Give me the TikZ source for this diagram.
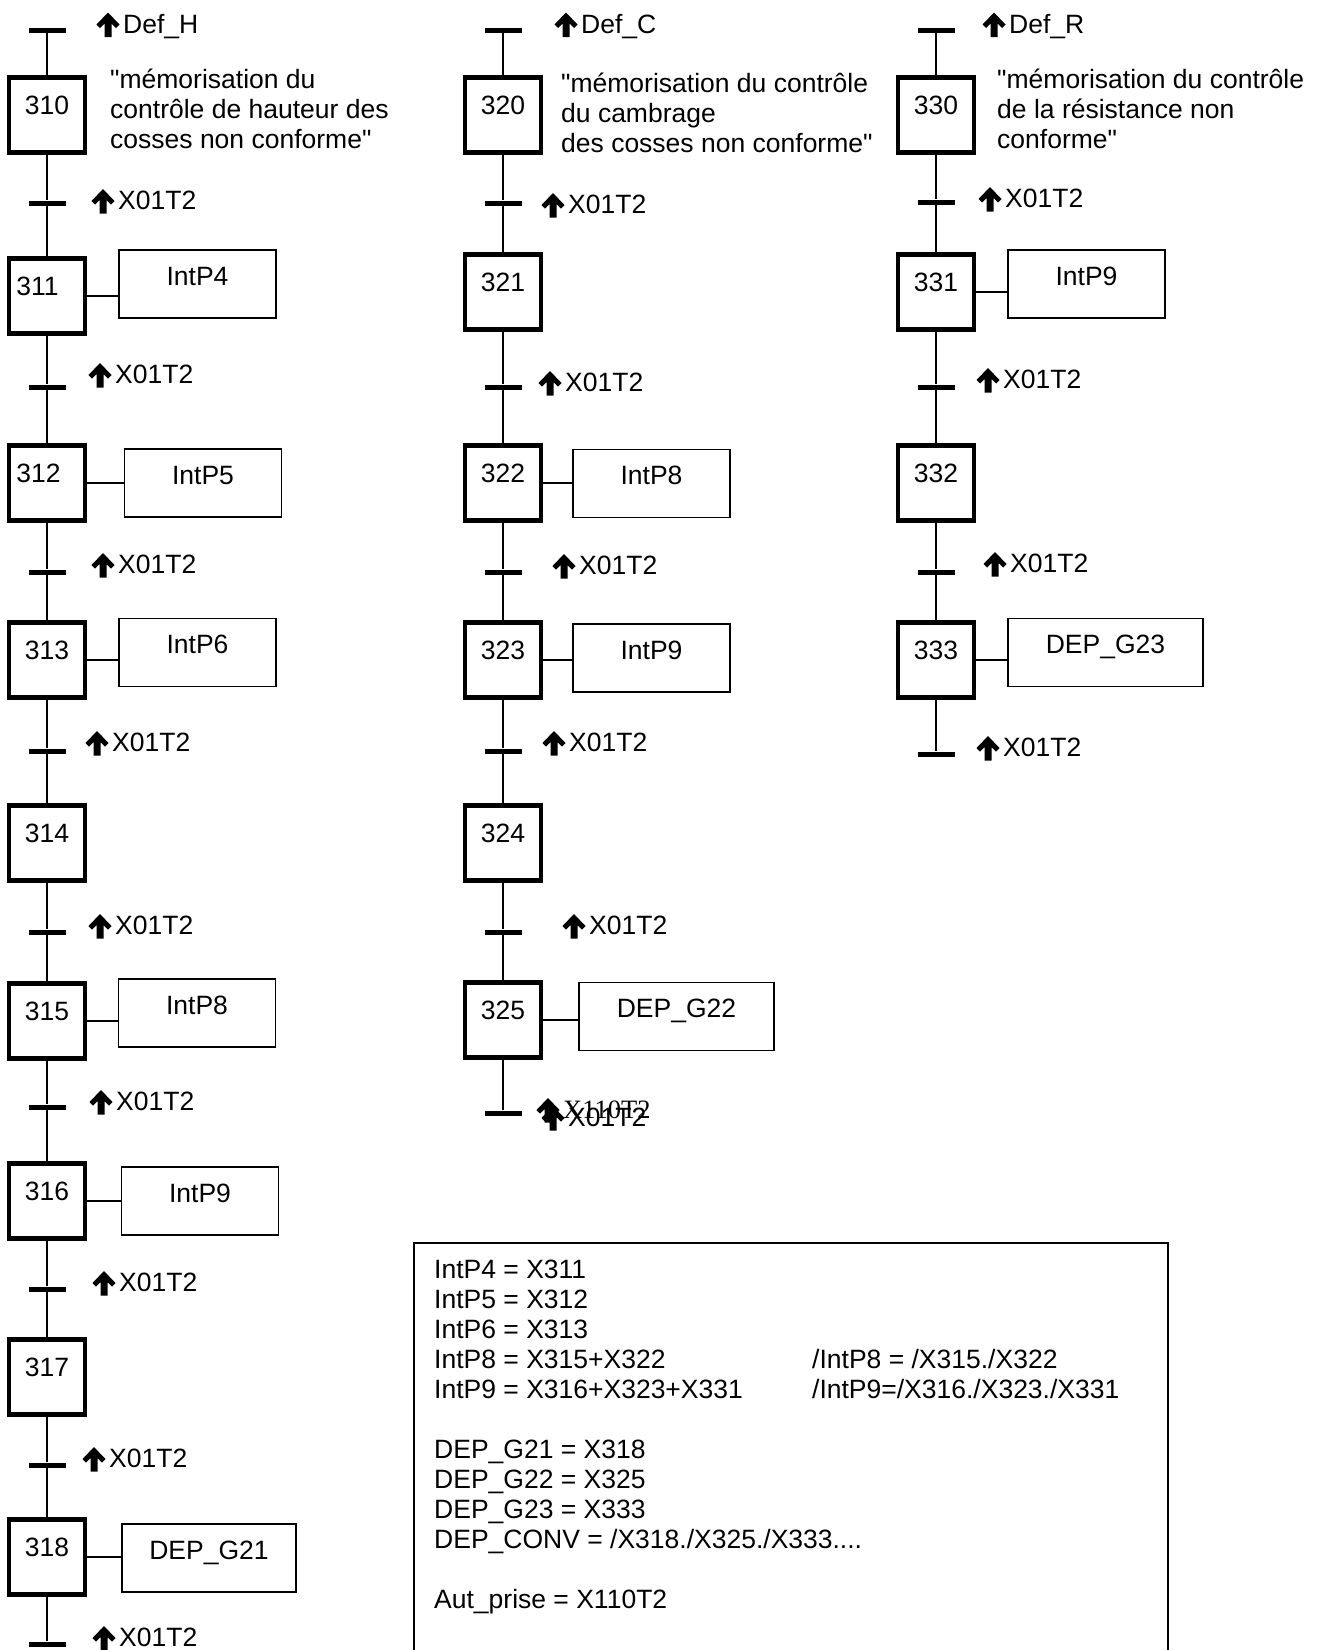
\documentclass[tikz,border=0pt]{standalone}
\usepackage{fontspec}
\setmainfont{Liberation Sans}
\newfontfamily\arialfont{Liberation Sans}
\newfontfamily\timesfont{Liberation Serif}
\usetikzlibrary{calc}

\begin{document}
\begin{tikzpicture}[
    x=1pt, y=-1pt,
    every node/.style={font=\arialfont\fontsize{26.5}{30}\selectfont},
    stepbox/.style={rectangle, draw=black, line width=4.8pt, minimum width=76pt, minimum height=75pt, inner sep=0pt, text depth=19pt},
    actbox/.style={rectangle, draw=black, line width=1.7pt, minimum width=157pt, minimum height=68pt, inner sep=0pt, text depth=16pt},
    trans/.style={rectangle, fill=black, minimum width=37pt, minimum height=5pt, inner sep=0pt},
    cond/.style={anchor=base west, inner sep=0pt},
    note/.style={anchor=base west, inner sep=0pt, align=left},
    link/.style={line width=1.8pt},
    rise/.pic={\fill (11,-11) -- (22.5,1) -- (19,4.5) -- (14.5,0) -- (14.5,13.5) -- (7.5,13.5) -- (7.5,0) -- (3,4.5) -- (-0.5,1) -- cycle;}
]
\useasboundingbox (0,0) rectangle (1322,1650);

% Grafcet hauteur (310)
\node[trans] (tH) at (47,30) {};
\pic at (97,23.5) {rise};
\node[cond] (cH) at (123,33) {Def\_H};
\node[stepbox] (s310) at (47,115) {310};
\node[note] (m310) at (110,148) {"mémorisation du\\contrôle de hauteur des\\cosses non conforme"};
\node[trans] (t310) at (47,203) {};
\pic at (92,200) {rise};
\node[cond] (c310) at (118,209.5) {X01T2};
\node[stepbox] (s311) at (47,296) {311\hspace*{19pt}};
\node[actbox] (a311) at (197.5,284) {IntP4};
\node[trans] (t311) at (47,387) {};
\pic at (89,374) {rise};
\node[cond] (c311) at (115,383.5) {X01T2};
\node[stepbox] (s312) at (47,483) {312\hspace*{17pt}};
\node[actbox] (a312) at (203,483) {IntP5};
\node[trans] (t312) at (47,572) {};
\pic at (92,564) {rise};
\node[cond] (c312) at (118,573.5) {X01T2};
\node[stepbox] (s313) at (47,660) {313};
\node[actbox] (a313) at (197.5,652.5) {IntP6};
\node[trans] (t313) at (47,751) {};
\pic at (86,742) {rise};
\node[cond] (c313) at (112,751.5) {X01T2};
\node[stepbox] (s314) at (47,843) {314};
\node[trans] (t314) at (47,932) {};
\pic at (89,925) {rise};
\node[cond] (c314) at (115,934.5) {X01T2};
\node[stepbox] (s315) at (47,1021) {315};
\node[actbox] (a315) at (197,1013) {IntP8};
\node[trans] (t315) at (47,1107) {};
\pic at (90,1101) {rise};
\node[cond] (c315) at (116,1110.5) {X01T2};
\node[stepbox] (s316) at (47,1201) {316};
\node[actbox] (a316) at (200,1201) {IntP9};
\node[trans] (t316) at (47,1289) {};
\pic at (93,1282) {rise};
\node[cond] (c316) at (119,1291.5) {X01T2};
\node[stepbox] (s317) at (47,1377) {317};
\node[trans] (t317) at (47,1465) {};
\pic at (83,1458) {rise};
\node[cond] (c317) at (109,1467.5) {X01T2};
\node[stepbox] (s318) at (47,1557) {318};
\node[actbox, minimum width=174pt] (a318) at (209,1558) {DEP\_G21};
\node[trans] (t318) at (47,1644) {};
\pic at (93,1637) {rise};
\node[cond] (c318) at (119,1646.5) {X01T2};

\draw[link] (tH) -- (s310) -- (t310) -- (s311) -- (t311) -- (s312) -- (t312) -- (s313) -- (t313) -- (s314) -- (t314) -- (s315) -- (t315) -- (s316) -- (t316) -- (s317) -- (t317) -- (s318) -- (t318);
\draw[link] (s311) -- (s311 -| a311.west);
\draw[link] (s312) -- (s312 -| a312.west);
\draw[link] (s313) -- (s313 -| a313.west);
\draw[link] (s315) -- (s315 -| a315.west);
\draw[link] (s316) -- (s316 -| a316.west);
\draw[link] (s318) -- (s318 -| a318.west);

% Grafcet cambrage (320)
\node[trans] (tC) at (503,30) {};
\pic at (555,23.5) {rise};
\node[cond] (cC) at (581,33) {Def\_C};
\node[stepbox] (s320) at (503,115) {320};
\node[note] (m320) at (561,152) {"mémorisation du contrôle\\du cambrage\\des cosses non conforme"};
\node[trans] (t320) at (503,203) {};
\pic at (542,204) {rise};
\node[cond] (c320) at (568,213.5) {X01T2};
\node[stepbox] (s321) at (503,292) {321};
\node[trans] (t321) at (503,387) {};
\pic at (539,382) {rise};
\node[cond] (c321) at (565,391.5) {X01T2};
\node[stepbox] (s322) at (503,483) {322};
\node[actbox] (a322) at (651.5,483.5) {IntP8};
\node[trans] (t322) at (503,572) {};
\pic at (553,565) {rise};
\node[cond] (c322) at (579,574.5) {X01T2};
\node[stepbox] (s323) at (503,660) {323};
\node[actbox] (a323) at (651.5,658) {IntP9};
\node[trans] (t323) at (503,751) {};
\pic at (543,742) {rise};
\node[cond] (c323) at (569,751.5) {X01T2};
\node[stepbox] (s324) at (503,843) {324};
\node[trans] (t324) at (503,932) {};
\pic at (563,925) {rise};
\node[cond] (c324) at (589,934.5) {X01T2};
\node[stepbox] (s325) at (503,1020) {325};
\node[actbox, minimum width=195pt] (a325) at (676.5,1016.5) {DEP\_G22};
\node[trans] (t325) at (503,1113) {};
\pic at (537,1109) {rise};
\node[cond, font=\fontsize{26.5}{30}\timesfont] (c325a) at (563,1118.5) {X110T2};
\pic at (542,1117) {rise};
\node[cond] (c325) at (568,1126.5) {X01T2};

\draw[link] (tC) -- (s320) -- (t320) -- (s321) -- (t321) -- (s322) -- (t322) -- (s323) -- (t323) -- (s324) -- (t324) -- (s325) -- (t325);
\draw[link] (s322) -- (s322 -| a322.west);
\draw[link] (s323) -- (s323 -| a323.west);
\draw[link] (s325) -- (s325 -| a325.west);

% Grafcet resistance (330)
\node[trans] (tR) at (936,30) {};
\pic at (983,23.5) {rise};
\node[cond] (cR) at (1009,33) {Def\_R};
\node[stepbox] (s330) at (936,115) {330};
\node[note] (m330) at (997,148) {"mémorisation du contrôle\\de la résistance non\\conforme"};
\node[trans] (t330) at (936,202) {};
\pic at (979,198) {rise};
\node[cond] (c330) at (1005,207.5) {X01T2};
\node[stepbox] (s331) at (936,292) {331};
\node[actbox] (a331) at (1086.5,284) {IntP9};
\node[trans] (t331) at (936,387) {};
\pic at (977,379) {rise};
\node[cond] (c331) at (1003,388.5) {X01T2};
\node[stepbox] (s332) at (936,483) {332};
\node[trans] (t332) at (936,572) {};
\pic at (984,563) {rise};
\node[cond] (c332) at (1010,572.5) {X01T2};
\node[stepbox] (s333) at (936,660) {333};
\node[actbox, minimum width=195pt] (a333) at (1105.5,652.5) {DEP\_G23};
\node[trans] (t333) at (936,754) {};
\pic at (977,747) {rise};
\node[cond] (c333) at (1003,756.5) {X01T2};

\draw[link] (tR) -- (s330) -- (t330) -- (s331) -- (t331) -- (s332) -- (t332) -- (s333) -- (t333);
\draw[link] (s331) -- (s331 -| a331.west);
\draw[link] (s333) -- (s333 -| a333.west);

% Equations
\node[draw=black, line width=1.7pt, anchor=north west, minimum width=754pt, minimum height=430pt, inner sep=0pt] (eqs) at (413,1242) {};
\node[cond] (eqtxt) at (434,1278) {\begin{tabular}[t]{@{}p{378pt}@{}l@{}}
IntP4 = X311 & \\
IntP5 = X312 & \\
IntP6 = X313 & \\
IntP8 = X315+X322 & /IntP8 = /X315./X322\\
IntP9 = X316+X323+X331 & /IntP9=/X316./X323./X331\\
 & \\
DEP\_G21 = X318 & \\
DEP\_G22 = X325 & \\
DEP\_G23 = X333 & \\
\multicolumn{2}{@{}l@{}}{DEP\_CONV = /X318./X325./X333....}\\
 & \\
Aut\_prise = X110T2 & \\
\end{tabular}};

\end{tikzpicture}
\end{document}
